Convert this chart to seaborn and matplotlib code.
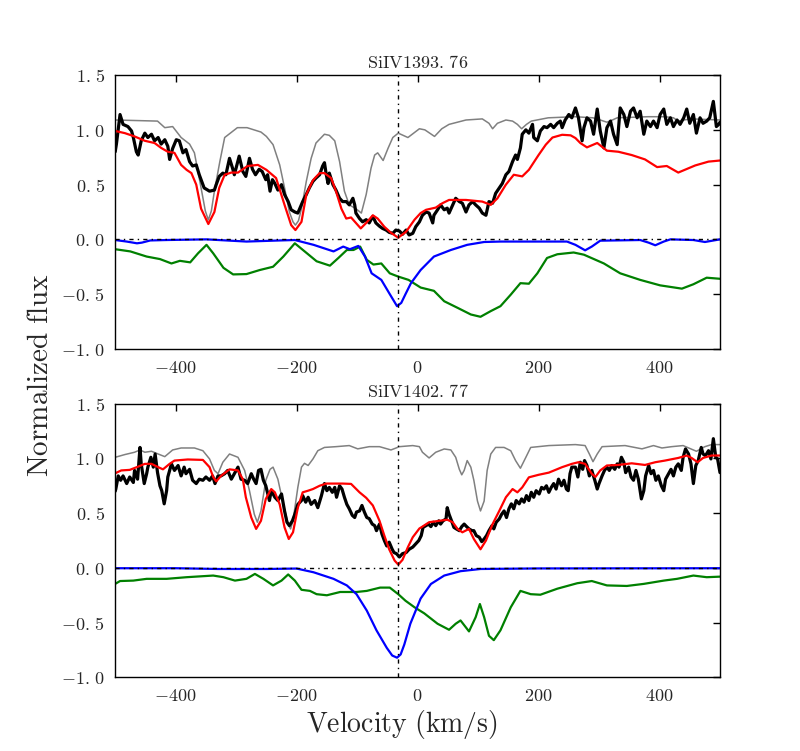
import matplotlib
matplotlib.use("Agg")
import matplotlib.pyplot as plt
import seaborn as sns

# ---- data (velocity km/s, normalized flux) ----
systemic_v = -33

top_title = r'$\mathrm{SiIV1393.\,76}$'
bot_title = r'$\mathrm{SiIV1402.\,77}$'

xtick_vals = [-400, -200, 0, 200, 400]
xtick_labels = [r'$-400$', r'$-200$', r'$0$', r'$200$', r'$400$']
ytick_vals = [-1.0, -0.5, 0.0, 0.5, 1.0, 1.5]
ytick_labels = [r'$-1.\,0$', r'$-0.\,5$', r'$0.\,0$', r'$0.\,5$', r'$1.\,0$', r'$1.\,5$']

top_gray = [(-500, 1.09), (-430, 1.08), (-424, 1.05), (-418, 1.02), (-405, 1.03), (-391, 0.93),
            (-377, 0.87), (-369, 0.79), (-357, 0.44), (-351, 0.26), (-346, 0.177), (-341, 0.26),
            (-336, 0.44), (-327, 0.71), (-319, 0.93), (-298, 1.02), (-282, 1.02), (-259, 0.98),
            (-250, 0.94), (-239, 0.865), (-228, 0.68), (-220, 0.47), (-212, 0.25), (-206, 0.16),
            (-202, 0.13), (-197, 0.17), (-192, 0.28), (-184, 0.53), (-176, 0.74), (-168, 0.88),
            (-154, 0.96), (-146, 0.95), (-137, 0.90), (-129, 0.71), (-121, 0.44), (-113, 0.315),
            (-102, 0.28), (-93, 0.24), (-85, 0.41), (-77, 0.65), (-71, 0.77), (-66, 0.79),
            (-57, 0.72), (-49, 0.83), (-41, 0.93), (-32, 0.97), (-16, 0.93), (3, 1.01), (12, 1.00),
            (28, 0.94), (40, 1.01), (52, 1.05), (80, 1.09), (107, 1.10), (118, 1.06), (124, 1.01),
            (132, 1.06), (146, 1.09), (157, 1.08), (165, 1.05), (172, 1.01), (180, 1.05), (188, 1.08),
            (216, 1.11), (260, 1.12), (290, 1.11), (302, 1.09), (313, 1.07), (322, 1.09), (330, 1.11),
            (381, 1.12), (410, 1.12), (423, 1.11), (431, 1.08), (440, 1.09), (453, 1.10), (500, 1.09)]

top_red = [(-500, 0.99), (-484, 0.97), (-468, 0.94), (-451, 0.90), (-435, 0.88), (-424, 0.835),
           (-413, 0.80), (-402, 0.79), (-391, 0.68), (-382, 0.635), (-374, 0.605), (-366, 0.50),
           (-358, 0.28), (-346, 0.14), (-336, 0.25), (-328, 0.47), (-319, 0.59), (-308, 0.61),
           (-297, 0.61), (-281, 0.67), (-264, 0.68), (-250, 0.635), (-234, 0.56), (-220, 0.315),
           (-209, 0.13), (-202, 0.085), (-192, 0.16), (-184, 0.41), (-173, 0.54), (-162, 0.605),
           (-154, 0.605), (-143, 0.56), (-135, 0.44), (-126, 0.28), (-118, 0.19), (-110, 0.20),
           (-102, 0.15), (-94, 0.10), (-85, 0.15), (-74, 0.22), (-66, 0.19), (-55, 0.115),
           (-44, 0.06), (-32, 0.015), (-19, 0.07), (-5, 0.18), (5, 0.24), (14, 0.27), (30, 0.29),
           (41, 0.33), (52, 0.36), (80, 0.36), (107, 0.345), (121, 0.315), (132, 0.375), (146, 0.50),
           (159, 0.59), (173, 0.575), (184, 0.635), (200, 0.77), (212, 0.865), (223, 0.93),
           (239, 0.955), (253, 0.95), (261, 0.925), (269, 0.88), (280, 0.84), (297, 0.88),
           (313, 0.81), (332, 0.80), (354, 0.77), (376, 0.73), (396, 0.66), (412, 0.67),
           (431, 0.61), (459, 0.675), (481, 0.71), (500, 0.72)]

top_blue = [(-500, -0.006), (-481, -0.02), (-464, -0.036), (-456, -0.03), (-442, -0.01), (-415, -0.006),
            (-349, 0.0), (-283, -0.02), (-228, -0.01), (-203, -0.006), (-172, -0.05), (-139, -0.11),
            (-123, -0.066), (-112, -0.09), (-98, -0.06), (-87, -0.157), (-76, -0.31), (-60, -0.37),
            (-46, -0.50), (-34, -0.61), (-27, -0.58), (-20, -0.50), (-11, -0.40), (5, -0.28),
            (27, -0.157), (55, -0.097), (82, -0.05), (110, -0.024), (137, -0.02), (247, -0.02),
            (261, -0.05), (277, -0.10), (288, -0.066), (302, -0.012), (368, -0.006), (382, -0.03),
            (393, -0.054), (407, -0.02), (418, 0.0), (456, -0.006), (475, -0.024), (500, 0.0)]

top_green = [(-500, -0.09), (-475, -0.11), (-448, -0.157), (-426, -0.18), (-407, -0.22), (-393, -0.196),
             (-376, -0.21), (-363, -0.127), (-349, -0.05), (-338, -0.127), (-321, -0.26), (-305, -0.32),
             (-283, -0.317), (-261, -0.28), (-239, -0.25), (-222, -0.157), (-203, -0.036), (-183, -0.127),
             (-167, -0.20), (-145, -0.24), (-131, -0.17), (-117, -0.097), (-106, -0.097), (-95, -0.066),
             (-84, -0.187), (-73, -0.23), (-60, -0.22), (-46, -0.31), (-32, -0.34), (-15, -0.37),
             (5, -0.44), (27, -0.47), (44, -0.565), (66, -0.625), (88, -0.686), (104, -0.707),
             (121, -0.655), (137, -0.61), (154, -0.505), (170, -0.40), (184, -0.405), (198, -0.31),
             (214, -0.17), (231, -0.136), (258, -0.12), (275, -0.14), (308, -0.22), (335, -0.31),
             (368, -0.37), (401, -0.42), (437, -0.45), (456, -0.41), (478, -0.35), (500, -0.36)]

top_black = [(-500, 0.80), (-498, 0.87), (-492, 1.14), (-487, 1.05), (-479, 1.03), (-473, 0.99),
             (-470, 0.93), (-465, 0.80), (-462, 0.77), (-457, 0.90), (-451, 0.97), (-446, 0.93),
             (-440, 0.96), (-435, 0.90), (-429, 0.93), (-424, 0.87), (-418, 0.91), (-413, 0.85),
             (-410, 0.73), (-405, 0.83), (-399, 0.91), (-394, 0.90), (-388, 0.79), (-383, 0.82),
             (-377, 0.71), (-372, 0.67), (-366, 0.68), (-361, 0.59), (-353, 0.47), (-344, 0.44),
             (-336, 0.45), (-333, 0.50), (-328, 0.575), (-322, 0.605), (-317, 0.59), (-311, 0.74),
             (-306, 0.65), (-303, 0.59), (-295, 0.76), (-289, 0.62), (-284, 0.575), (-278, 0.74),
             (-273, 0.64), (-268, 0.59), (-262, 0.64), (-257, 0.62), (-251, 0.545), (-248, 0.59),
             (-244, 0.44), (-240, 0.545), (-236, 0.51), (-231, 0.45), (-225, 0.50), (-220, 0.41),
             (-214, 0.345), (-209, 0.27), (-203, 0.25), (-198, 0.24), (-195, 0.28), (-190, 0.345),
             (-184, 0.41), (-179, 0.47), (-173, 0.53), (-168, 0.56), (-162, 0.59), (-157, 0.67),
             (-154, 0.70), (-151, 0.59), (-148, 0.51), (-146, 0.605), (-140, 0.50), (-135, 0.45),
             (-129, 0.375), (-124, 0.345), (-118, 0.345), (-113, 0.315), (-107, 0.375), (-104, 0.315),
             (-102, 0.24), (-96, 0.19), (-91, 0.16), (-85, 0.18), (-80, 0.15), (-74, 0.21),
             (-69, 0.15), (-63, 0.12), (-58, 0.10), (-52, 0.085), (-47, 0.064), (-41, 0.055),
             (-36, 0.085), (-30, 0.076), (-25, 0.046), (-19, 0.085), (-14, 0.04), (-8, 0.055),
             (-3, 0.116), (3, 0.16), (8, 0.22), (14, 0.25), (19, 0.24), (25, 0.15), (27, 0.22),
             (33, 0.27), (38, 0.315), (44, 0.27), (49, 0.285), (52, 0.24), (58, 0.315), (63, 0.375),
             (69, 0.345), (74, 0.33), (80, 0.25), (85, 0.315), (91, 0.345), (96, 0.315), (102, 0.285),
             (107, 0.24), (113, 0.22), (118, 0.345), (124, 0.33), (129, 0.42), (135, 0.47), (140, 0.51),
             (146, 0.59), (151, 0.62), (157, 0.71), (162, 0.77), (165, 0.73), (170, 0.835), (173, 0.96),
             (179, 1.00), (184, 0.97), (190, 1.05), (192, 0.93), (198, 0.90), (203, 0.99), (209, 1.03),
             (214, 1.02), (220, 1.05), (225, 1.02), (231, 1.06), (236, 1.08), (239, 1.02), (244, 1.09),
             (250, 1.14), (255, 1.11), (261, 1.20), (266, 1.11), (272, 0.90), (275, 1.02), (280, 1.11),
             (286, 1.08), (291, 0.96), (297, 1.19), (302, 0.99), (308, 0.835), (313, 1.02), (319, 1.08),
             (324, 0.96), (330, 0.865), (335, 1.20), (341, 1.14), (346, 1.03), (352, 1.17), (357, 1.20),
             (363, 1.11), (368, 1.17), (374, 0.96), (379, 1.08), (385, 1.03), (390, 1.08), (396, 1.02),
             (401, 1.14), (407, 1.19), (412, 1.05), (418, 1.11), (423, 1.03), (429, 1.09), (434, 1.05),
             (440, 1.11), (445, 1.19), (450, 1.06), (456, 1.14), (461, 0.97), (467, 1.11), (472, 1.06),
             (478, 1.08), (483, 1.11), (489, 1.26), (494, 1.03), (498, 1.05), (500, 1.07)]

bot_gray = [(-500, 1.01), (-484, 1.035), (-468, 1.056), (-459, 1.077), (-451, 1.056), (-440, 1.065),
            (-429, 1.04), (-418, 1.016), (-405, 1.077), (-391, 1.095), (-369, 1.095), (-355, 1.07),
            (-344, 0.995), (-336, 0.89), (-330, 0.86), (-322, 0.965), (-311, 1.04), (-297, 1.01),
            (-286, 0.89), (-278, 0.705), (-270, 0.49), (-265, 0.417), (-259, 0.52), (-251, 0.80),
            (-244, 0.90), (-239, 0.92), (-231, 0.81), (-222, 0.58), (-214, 0.40), (-210, 0.356),
            (-206, 0.43), (-198, 0.736), (-192, 0.92), (-187, 0.955), (-181, 0.935), (-173, 0.995),
            (-165, 1.07), (-154, 1.10), (-135, 1.107), (-113, 1.117), (-99, 1.087), (-80, 1.107),
            (-63, 1.107), (-44, 1.077), (-30, 1.107), (-8, 1.117), (3, 1.107), (8, 1.056), (19, 1.004),
            (30, 1.056), (44, 1.086), (55, 1.077), (63, 1.01), (69, 0.90), (73, 0.85), (77, 0.89),
            (82, 0.98), (88, 0.92), (93, 0.80), (99, 0.61), (104, 0.52), (110, 0.61), (115, 0.89),
            (121, 1.04), (129, 1.10), (143, 1.10), (154, 1.07), (162, 0.98), (170, 0.91), (179, 1.01),
            (187, 1.10), (217, 1.117), (261, 1.126), (277, 1.117), (284, 1.04), (290, 0.97), (297, 1.04),
            (305, 1.107), (343, 1.117), (371, 1.087), (390, 1.117), (404, 1.095), (420, 1.107),
            (439, 1.117), (461, 1.065), (475, 1.107), (486, 1.126), (500, 1.126)]

bot_red = [(-500, 0.864), (-490, 0.89), (-476, 0.895), (-462, 0.925), (-451, 0.95), (-440, 0.95),
           (-429, 0.92), (-421, 0.90), (-410, 0.95), (-402, 0.98), (-380, 0.99), (-355, 0.986),
           (-344, 0.92), (-338, 0.83), (-333, 0.79), (-325, 0.84), (-311, 0.90), (-297, 0.89),
           (-289, 0.81), (-284, 0.645), (-275, 0.46), (-267, 0.356), (-259, 0.43), (-251, 0.63),
           (-242, 0.72), (-236, 0.69), (-228, 0.58), (-220, 0.37), (-213, 0.264), (-206, 0.325),
           (-198, 0.55), (-190, 0.69), (-181, 0.705), (-173, 0.72), (-162, 0.75), (-151, 0.77),
           (-124, 0.77), (-110, 0.767), (-96, 0.69), (-85, 0.64), (-74, 0.57), (-63, 0.43),
           (-55, 0.295), (-47, 0.17), (-38, 0.067), (-32, 0.03), (-25, 0.073), (-16, 0.19),
           (-8, 0.28), (3, 0.36), (8, 0.377), (19, 0.417), (36, 0.43), (49, 0.44), (58, 0.417),
           (66, 0.356), (74, 0.325), (85, 0.356), (93, 0.264), (104, 0.17), (113, 0.25), (124, 0.40),
           (135, 0.52), (146, 0.645), (157, 0.72), (165, 0.69), (173, 0.735), (184, 0.827),
           (200, 0.85), (217, 0.87), (239, 0.92), (255, 0.95), (266, 0.965), (277, 0.95), (288, 0.86),
           (294, 0.83), (302, 0.89), (313, 0.935), (332, 0.94), (354, 0.955), (376, 0.94), (393, 0.965),
           (409, 0.98), (431, 1.004), (445, 1.026), (453, 1.004), (463, 0.965), (472, 1.004),
           (486, 1.026), (500, 1.026)]

bot_blue = [(-500, -0.003), (-400, -0.003), (-330, -0.01), (-250, -0.01), (-200, -0.006), (-172, -0.04),
            (-139, -0.10), (-117, -0.16), (-101, -0.24), (-84, -0.39), (-68, -0.57), (-51, -0.73),
            (-42, -0.80), (-34, -0.82), (-28, -0.79), (-22, -0.70), (-12, -0.51), (5, -0.28),
            (22, -0.147), (44, -0.07), (71, -0.03), (104, -0.01), (200, -0.005), (500, -0.003)]

bot_green = [(-500, -0.146), (-492, -0.12), (-470, -0.116), (-448, -0.10), (-415, -0.10), (-382, -0.085),
             (-338, -0.07), (-321, -0.085), (-302, -0.116), (-283, -0.10), (-269, -0.055), (-255, -0.10),
             (-239, -0.16), (-225, -0.116), (-214, -0.06), (-203, -0.116), (-192, -0.20), (-178, -0.21),
             (-167, -0.24), (-150, -0.25), (-128, -0.22), (-101, -0.22), (-84, -0.21), (-62, -0.18),
             (-46, -0.18), (-32, -0.24), (-20, -0.30), (-5, -0.36), (11, -0.415), (33, -0.51),
             (52, -0.565), (63, -0.51), (71, -0.48), (85, -0.58), (96, -0.45), (103, -0.33),
             (110, -0.45), (118, -0.62), (126, -0.66), (137, -0.57), (154, -0.36), (170, -0.21),
             (187, -0.24), (203, -0.245), (231, -0.19), (264, -0.14), (288, -0.12), (313, -0.16),
             (346, -0.165), (374, -0.146), (407, -0.116), (429, -0.10), (456, -0.07), (478, -0.085),
             (500, -0.08)]

bot_black = [(-500, 0.70), (-499, 0.72), (-495, 0.84), (-491, 0.80), (-487, 0.84), (-481, 0.77),
             (-476, 0.83), (-470, 0.78), (-468, 0.89), (-463, 0.81), (-459, 1.10), (-457, 0.95),
             (-452, 0.77), (-448, 0.86), (-446, 0.92), (-441, 1.01), (-437, 0.92), (-434, 1.04),
             (-430, 0.87), (-426, 0.75), (-423, 0.705), (-419, 0.585), (-415, 0.705), (-413, 0.83),
             (-407, 0.95), (-402, 0.89), (-396, 0.935), (-391, 0.84), (-386, 0.92), (-383, 0.86),
             (-377, 0.90), (-372, 0.80), (-366, 0.77), (-361, 0.81), (-355, 0.80), (-350, 0.83),
             (-344, 0.80), (-339, 0.84), (-335, 0.77), (-330, 0.84), (-325, 0.84), (-319, 0.86),
             (-314, 0.89), (-308, 0.81), (-303, 0.86), (-297, 0.92), (-292, 0.81), (-286, 0.80),
             (-281, 0.77), (-275, 0.86), (-271, 0.81), (-267, 0.77), (-263, 0.89), (-259, 0.90),
             (-255, 0.80), (-251, 0.75), (-245, 0.615), (-242, 0.705), (-236, 0.645), (-231, 0.615),
             (-225, 0.675), (-220, 0.52), (-216, 0.417), (-212, 0.386), (-207, 0.43), (-203, 0.49),
             (-198, 0.58), (-192, 0.615), (-190, 0.66), (-185, 0.60), (-181, 0.645), (-176, 0.58),
             (-170, 0.615), (-165, 0.55), (-159, 0.66), (-154, 0.77), (-150, 0.705), (-146, 0.735),
             (-141, 0.69), (-137, 0.735), (-134, 0.645), (-129, 0.75), (-125, 0.72), (-121, 0.645),
             (-117, 0.58), (-113, 0.54), (-108, 0.48), (-104, 0.46), (-101, 0.51), (-96, 0.52),
             (-92, 0.57), (-88, 0.51), (-84, 0.46), (-80, 0.45), (-75, 0.40), (-71, 0.386),
             (-68, 0.34), (-63, 0.40), (-59, 0.31), (-55, 0.25), (-51, 0.20), (-47, 0.235),
             (-42, 0.17), (-39, 0.14), (-35, 0.13), (-30, 0.10), (-25, 0.13), (-19, 0.14),
             (-14, 0.17), (-8, 0.19), (-3, 0.22), (2, 0.25), (6, 0.295), (9, 0.37), (14, 0.386),
             (18, 0.40), (22, 0.377), (26, 0.417), (30, 0.386), (35, 0.43), (38, 0.40), (42, 0.43),
             (47, 0.447), (49, 0.55), (52, 0.49), (57, 0.417), (60, 0.37), (64, 0.356), (69, 0.34),
             (73, 0.377), (77, 0.40), (81, 0.377), (85, 0.356), (90, 0.34), (93, 0.34), (97, 0.295),
             (102, 0.28), (106, 0.24), (110, 0.264), (114, 0.295), (118, 0.34), (123, 0.386),
             (126, 0.356), (130, 0.417), (135, 0.447), (139, 0.49), (143, 0.52), (147, 0.46),
             (151, 0.54), (155, 0.585), (159, 0.54), (163, 0.615), (168, 0.585), (172, 0.63),
             (176, 0.60), (180, 0.66), (184, 0.615), (188, 0.69), (192, 0.645), (196, 0.705),
             (201, 0.675), (205, 0.735), (209, 0.72), (213, 0.75), (217, 0.69), (221, 0.735),
             (225, 0.77), (229, 0.72), (233, 0.81), (238, 0.75), (242, 0.80), (246, 0.72),
             (249, 0.705), (252, 0.86), (255, 0.92), (261, 0.92), (265, 0.83), (269, 0.965),
             (273, 0.90), (276, 0.98), (280, 0.935), (284, 0.84), (288, 0.89), (293, 0.80),
             (297, 0.72), (300, 0.77), (305, 0.84), (309, 0.89), (313, 0.92), (317, 0.89),
             (321, 0.935), (326, 0.90), (330, 0.95), (333, 0.92), (337, 1.01), (341, 0.965),
             (344, 0.87), (349, 0.92), (353, 0.83), (357, 0.80), (361, 0.89), (365, 0.81),
             (370, 0.63), (374, 0.705), (377, 0.84), (382, 0.935), (386, 0.86), (390, 0.89),
             (394, 0.80), (398, 0.84), (403, 0.75), (407, 0.705), (410, 0.81), (415, 0.86),
             (419, 0.90), (423, 0.84), (427, 0.92), (431, 0.95), (436, 0.89), (439, 1.01),
             (443, 1.086), (448, 1.04), (452, 0.95), (456, 0.77), (460, 0.935), (464, 0.98),
             (469, 1.10), (472, 1.04), (476, 1.025), (481, 1.07), (485, 0.995), (489, 1.18),
             (493, 1.01), (496, 0.995), (500, 0.87)]

panels = [
    (top_title, top_gray, top_black, top_red, top_green, top_blue),
    (bot_title, bot_gray, bot_black, bot_red, bot_green, bot_blue),
]

sns.set_style("white")
plt.rcParams['mathtext.fontset'] = 'cm'
plt.rcParams['font.family'] = ['DejaVu Serif']


def draw_line(ax, pts, color, lw):
    v = [p[0] for p in pts]
    f = [p[1] for p in pts]
    sns.lineplot(x=v, y=f, color=color, lw=lw, ax=ax, estimator=None, sort=False)


fig, axes = plt.subplots(2, 1, figsize=(8, 7.51), dpi=100)
fig.subplots_adjust(left=0.144, right=0.9, top=0.9, bottom=0.098, hspace=0.2)

for ax, (title, gray, black, red, green, blue) in zip(axes, panels):
    draw_line(ax, gray, '#808080', 1.1)
    draw_line(ax, black, 'black', 2.3)
    draw_line(ax, red, '#ff0000', 1.6)
    draw_line(ax, green, '#008000', 1.6)
    draw_line(ax, blue, '#0000ff', 1.6)
    ax.axhline(0, color='black', lw=1, dashes=(3, 3, 1, 3))
    ax.axvline(systemic_v, color='black', lw=1, dashes=(3, 3, 1, 3))

    ax.set_xlim(-500, 500)
    ax.set_ylim(-1.0, 1.5)
    ax.set_xticks(xtick_vals)
    ax.set_xticklabels(xtick_labels)
    ax.set_yticks(ytick_vals)
    ax.set_yticklabels(ytick_labels)
    ax.tick_params(direction='in', top=True, right=True, length=5, width=1,
                   labelsize=13, pad=7, color='black')
    for sp in ax.spines.values():
        sp.set_color('black')
        sp.set_linewidth(1)
    ax.set_xlabel('')
    ax.set_ylabel('')
    ax.set_title(title, fontsize=13, pad=5)

fig.text(0.05, 0.5, r'$\mathrm{Normalized\ flux}$', rotation=90,
         ha='center', va='center', fontsize=21)
fig.text(0.502, 0.035, r'$\mathrm{Velocity\ (km/s)}$', ha='center', va='center', fontsize=20)

fig.savefig('out.png', dpi=100)
